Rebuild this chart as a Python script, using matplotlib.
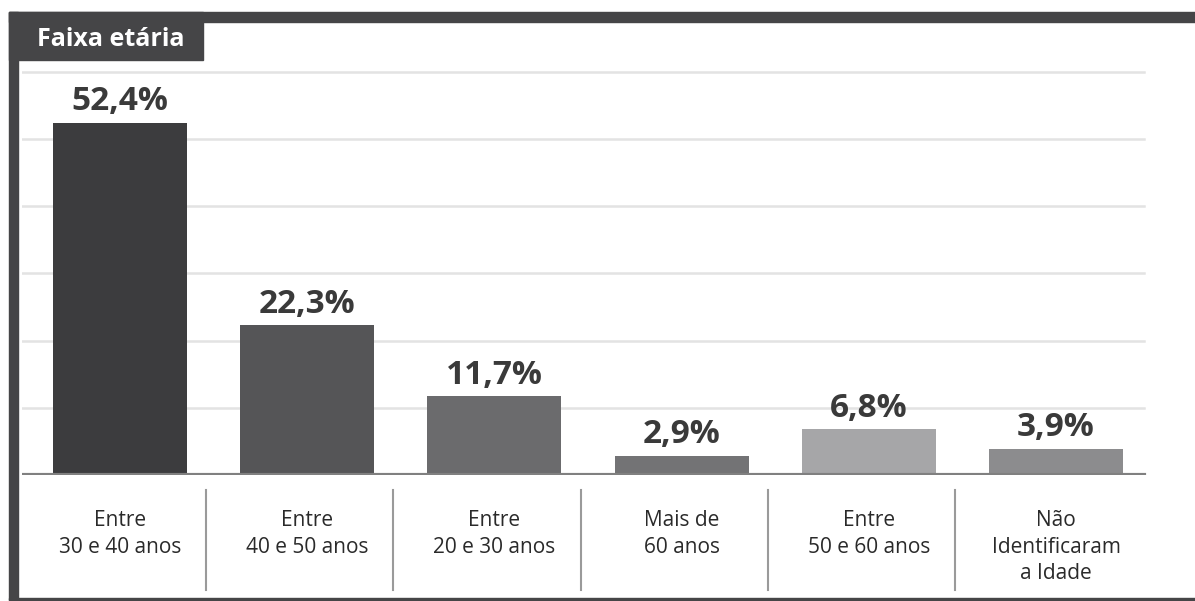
import matplotlib.pyplot as plt
from matplotlib.patches import Rectangle
from matplotlib.lines import Line2D

plt.rcParams['font.family'] = ['Open Sans', 'DejaVu Sans']

# data
categories = ["Entre\n30 e 40 anos", "Entre\n40 e 50 anos", "Entre\n20 e 30 anos",
              "Mais de\n60 anos", "Entre\n50 e 60 anos", "Não\nIdentificaram\na Idade"]
values = [52.4, 22.3, 11.7, 2.9, 6.8, 3.9]
value_labels = ["52,4%", "22,3%", "11,7%", "2,9%", "6,8%", "3,9%"]
bar_colors = ["#3c3c3e", "#555557", "#6b6b6d", "#737375", "#a6a6a8", "#8c8c8e"]
grid_vals = [10, 20, 30, 40, 50, 60]

W, H = 1195, 601
fig = plt.figure(figsize=(W / 100, H / 100), dpi=100)
fig.patch.set_facecolor("white")

def fx(px):
    return px / W

def fy(py):
    return 1 - py / H

# plot area: x pixels 22..1150, baseline at y=475, top at y=22
ax = fig.add_axes([fx(22), fy(475), fx(1150) - fx(22), fy(22) - fy(475)])
step = 187.2
ax.set_xlim((22 - 120) / step, (1150 - 120) / step)
ax.set_ylim(0, (475 - 22) / 6.72)
ax.axis("off")

for g in grid_vals:
    ax.axhline(g, color="#e3e3e3", lw=1.8, zorder=0, xmax=0.995)

x = range(len(values))
ax.bar(x, values, width=134 / step, color=bar_colors, zorder=2)
ax.axhline(0, color="#808080", lw=3, zorder=3, xmin=0.002, xmax=0.995)

for i, (v, lab) in enumerate(zip(values, value_labels)):
    ax.annotate(lab, (i, v), xytext=(0, 9), textcoords="offset points",
                ha="center", va="baseline", fontsize=24, fontweight="bold",
                color="#3a3a3a", zorder=4)

# category labels and separators below the baseline
trans = ax.get_xaxis_transform()
for i, c in enumerate(categories):
    ax.text(i, -(510 - 475) / (475 - 22), c, transform=trans, ha="center", va="top",
            fontsize=15, color="#2a2a2a", linespacing=1.35, clip_on=False)
for i in range(len(categories) - 1):
    ax.add_line(Line2D([i + 0.46, i + 0.46],
                       [-(490 - 475) / (475 - 22), -(590 - 475) / (475 - 22)],
                       transform=trans, color="#9a9a9a", lw=1.5, clip_on=False))

# frame: top bar, left bar, bottom line
frame = "#454547"
fig.patches.append(Rectangle((fx(9), fy(22)), 1 - fx(9), fy(12) - fy(22),
                             transform=fig.transFigure, color=frame, zorder=5))
fig.patches.append(Rectangle((fx(9), fy(600)), fx(18) - fx(9), fy(12) - fy(600),
                             transform=fig.transFigure, color=frame, zorder=5))
fig.patches.append(Rectangle((fx(9), fy(600)), 1 - fx(9), fy(598) - fy(600),
                             transform=fig.transFigure, color=frame, zorder=5))
# title tab
fig.patches.append(Rectangle((fx(9), fy(60)), fx(203) - fx(9), fy(12) - fy(60),
                             transform=fig.transFigure, color=frame, zorder=5))
fig.text(fx(111), fy(46), "Faixa etária", ha="center", va="baseline",
         fontsize=18, fontweight="bold", color="white", zorder=6)

fig.savefig("out.png", dpi=100)
